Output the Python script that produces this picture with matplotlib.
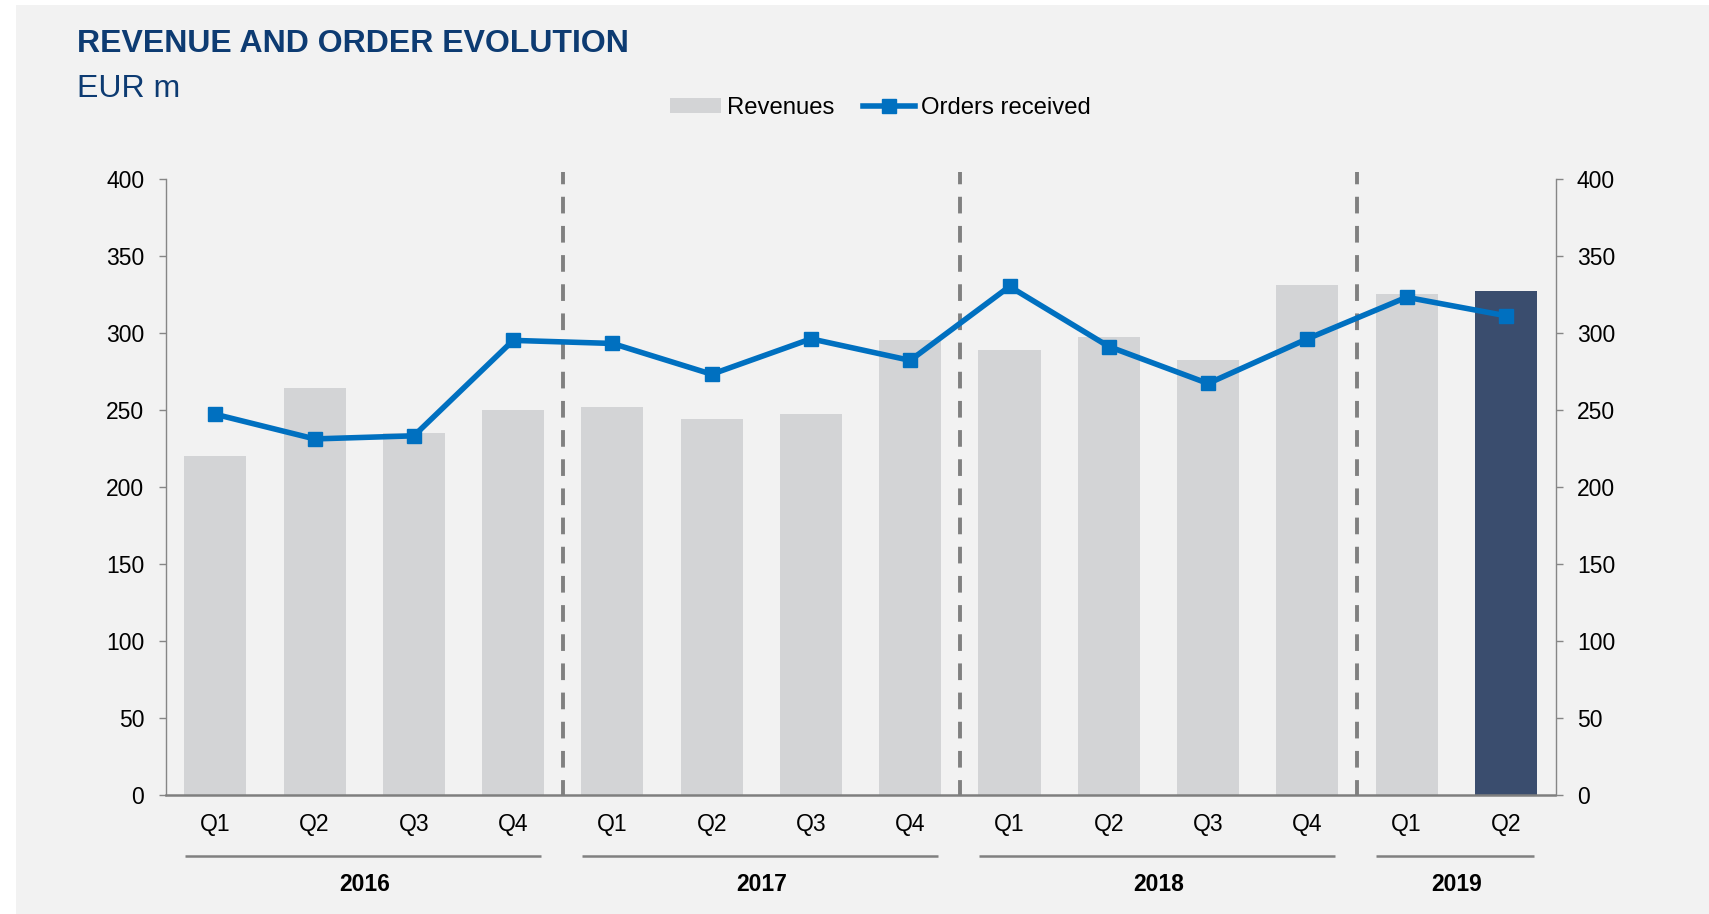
import matplotlib
matplotlib.use("Agg")
import matplotlib.pyplot as plt
from matplotlib.patches import Rectangle, Patch
from matplotlib.lines import Line2D

plt.rcParams['font.family'] = ['Liberation Sans', 'DejaVu Sans']
plt.rcParams['lines.scale_dashes'] = False

# ---- data ----
quarters = ["Q1", "Q2", "Q3", "Q4", "Q1", "Q2", "Q3", "Q4",
            "Q1", "Q2", "Q3", "Q4", "Q1", "Q2"]
years = ["2016", "2017", "2018", "2019"]
year_groups = [(0, 3), (4, 7), (8, 11), (12, 13)]
revenues = [220, 264, 235, 250, 252, 244, 247, 295, 289, 297, 282, 331, 325, 327]
orders = [247, 231, 233, 295, 293, 273, 296, 282, 330, 291, 267, 296, 323, 311]
yticks = [0, 50, 100, 150, 200, 250, 300, 350, 400]

BAR_GREY = "#d3d4d6"
BAR_DARK = "#3a4d6e"
LINE_BLUE = "#0070c0"
TITLE_BLUE = "#0d3b72"
AX_GREY = "#808080"

W, H = 1709, 914
fig = plt.figure(figsize=(W / 100, H / 100), dpi=100)
fig.patch.set_facecolor("#f2f2f2")
# white margins at left and top
fig.patches.append(Rectangle((0, 0), 16 / W, 1, transform=fig.transFigure,
                             facecolor="white", edgecolor="none", zorder=-10))
fig.patches.append(Rectangle((0, 1 - 5 / H), 1, 5 / H, transform=fig.transFigure,
                             facecolor="white", edgecolor="none", zorder=-10))

left, right, top, bottom = 165.7, 1555.5, 178.7, 794.6
ax = fig.add_axes([left / W, 1 - bottom / H, (right - left) / W, (bottom - top) / H])
ax.set_facecolor("none")

x = list(range(len(quarters)))
colors = [BAR_GREY] * (len(x) - 1) + [BAR_DARK]
ax.bar(x, revenues, width=0.625, color=colors, zorder=2)
ax.plot(x, orders, color=LINE_BLUE, lw=4, marker="s", markersize=10.5, zorder=4)

ax.set_xlim(-0.5, len(x) - 0.5)
ax.set_ylim(0, 400)
ax.set_yticks(yticks)
ax.set_xticks(x)
ax.set_xticklabels(quarters, fontsize=16.5)

# dashed year separators
for g in year_groups[1:]:
    xs = g[0] - 0.5
    ax.plot([xs, xs], [404.5, 0], color=AX_GREY, lw=2.8,
            linestyle=(4.4 * 0.72, (12.0, 9.0)), clip_on=False, zorder=3)

# year group lines and labels
for (a, b), yr in zip(year_groups, years):
    ax.plot([a - 0.31, b + 0.28], [-39.9, -39.9], color=AX_GREY, lw=1.8,
            clip_on=False, solid_capstyle="butt")
    ax.text((a + b) / 2, -58.5, yr, ha="center", va="center", fontsize=16.5,
            fontweight="bold", color="black")

ax.spines["top"].set_visible(False)
for s in ["left", "right"]:
    ax.spines[s].set_color("#868686")
    ax.spines[s].set_linewidth(1.0)
ax.spines["bottom"].set_color("#7f7f7f")
ax.spines["bottom"].set_linewidth(1.8)
ax.spines["bottom"].set_zorder(5)

ax.tick_params(axis="y", which="both", left=True, right=True, labelleft=True, labelright=True,
               direction="out", length=5, width=1, color="#868686", pad=10.4,
               labelsize=16.5, labelcolor="black")
ax.tick_params(axis="x", length=0, pad=13, labelcolor="black")

# title
fig.text(77 / W, 1 - 51.7 / H, "REVENUE AND ORDER EVOLUTION", fontsize=23,
         fontweight="bold", color=TITLE_BLUE, va="baseline", ha="left")
fig.text(77 / W, 1 - 97.3 / H, "EUR m", fontsize=23, color=TITLE_BLUE,
         va="baseline", ha="left")

handles = [Patch(facecolor=BAR_GREY, edgecolor="none"),
           Line2D([0], [0], color=LINE_BLUE, lw=4, marker="s", markersize=10.5)]
fig.legend(handles, ["Revenues", "Orders received"], loc="center left",
           bbox_to_anchor=(670 / W, 1 - 108 / H), ncol=2, frameon=False,
           fontsize=17.2, handlelength=2.15, handleheight=0.55, handletextpad=0.25,
           columnspacing=1.2, borderaxespad=0, borderpad=0)

fig.savefig("out.png", dpi=100, facecolor=fig.get_facecolor())
